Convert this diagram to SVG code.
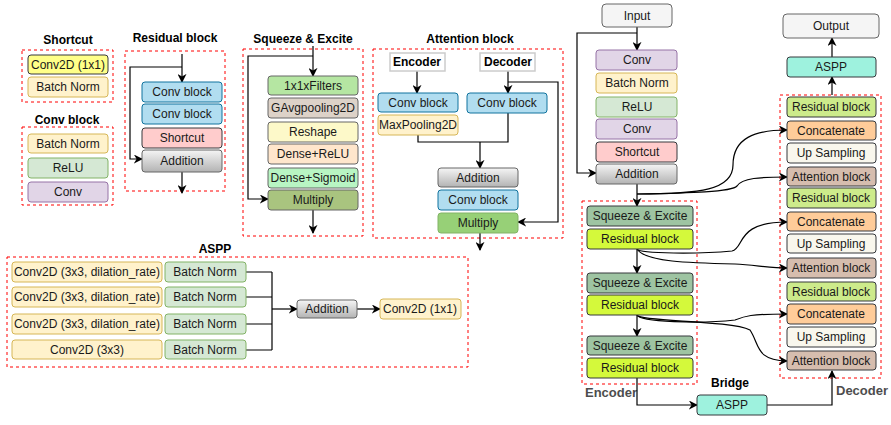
<svg xmlns="http://www.w3.org/2000/svg" width="891" height="425" viewBox="0 0 891 425">
<defs>
<linearGradient id="gray" x1="0" y1="0" x2="0" y2="1"><stop offset="0" stop-color="#f5f5f5"/><stop offset="1" stop-color="#b3b3b3"/></linearGradient>
<marker id="arr" viewBox="0 0 10 10" refX="9" refY="5" markerWidth="9" markerHeight="9" orient="auto" markerUnits="userSpaceOnUse"><path d="M0,0 L10,5 L0,10 L3,5 z" fill="#000"/></marker>
<style>
text{font-family:"Liberation Sans",Arial,sans-serif;font-size:12px;fill:#1a1a1a;text-anchor:middle}
.t{font-weight:bold;fill:#000}
.lbl{font-weight:bold;fill:#4d4d4d;text-anchor:start;font-size:13px}
.dash{fill:none;stroke:#ff0000;stroke-width:1;stroke-dasharray:3,3}
rect{stroke-width:1}
.yel{fill:#ffff88;stroke:#36393d}
.bn{fill:#fff2cc;stroke:#d6b656}
.gr{fill:#d5e8d4;stroke:#82b366}
.pu{fill:#e1d5e7;stroke:#9673a6}
.bl{fill:#b1ddf0;stroke:#10739e}
.pk{fill:#ffcccc;stroke:#36393d}
.add{fill:url(#gray);stroke:#666666}
.inp{fill:#f5f5f5;stroke:#666666}
.f1{fill:#b5e6a2;stroke:#666666}
.f2{fill:#ddd2c8;stroke:#666666}
.f3{fill:#fdf9c9;stroke:#666666}
.f4{fill:#ffe6cc;stroke:#666666}
.f5{fill:#b8f5c3;stroke:#666666}
.f6{fill:#a9c47f;stroke:#666666}
.mul{fill:#97d077;stroke:#82b366}
.wh{fill:#ffffff;stroke:#cccccc;stroke-width:1.5}
.se{fill:#9ec4a2;stroke:#36393d}
.rb{fill:#d4f93b;stroke:#36393d}
.rb2{fill:#cdeb8b;stroke:#36393d}
.cc{fill:#ffcc99;stroke:#36393d}
.up{fill:#f9f7ed;stroke:#36393d}
.at{fill:#d6bdae;stroke:#36393d}
.as{fill:#9ef2de;stroke:#36393d}
.ln{fill:none;stroke:#000;stroke-width:1.2}
.la{fill:none;stroke:#000;stroke-width:1.2;marker-end:url(#arr)}
</style>
</defs>
<rect width="891" height="425" fill="#ffffff"/>

<!-- titles / frames -->
<g id="frames">
<rect class="dash" x="22" y="50" width="91" height="52"/>
<rect class="dash" x="22" y="127" width="91" height="78"/>
<rect class="dash" x="125" y="51" width="100" height="140"/>
<rect class="dash" x="243" y="49" width="120" height="187"/>
<rect class="dash" x="373" y="49" width="190" height="189"/>
<rect class="dash" x="7" y="257" width="461" height="110"/>
<rect class="dash" x="582" y="201" width="115" height="183"/>
<rect class="dash" x="780" y="95" width="101" height="283"/>
<text class="t" x="68" y="44">Shortcut</text>
<text class="t" x="67" y="124">Conv block</text>
<text class="t" x="175" y="42">Residual block</text>
<text class="t" x="303" y="43">Squeeze &amp; Excite</text>
<text class="t" x="470" y="43">Attention block</text>
<text class="t" x="215" y="253">ASPP</text>
<text class="t" x="730" y="387">Bridge</text>
<text class="lbl" x="585" y="397">Encoder</text>
<text class="lbl" x="836" y="395">Decoder</text>
</g>

<!-- connectors -->
<g id="connectors">
<path class="la" d="M182,54 V82"/>
<path class="la" d="M182,67 H130 V159 H142"/>
<path class="la" d="M182,172 V193"/>
<path class="la" d="M313,46 V76"/>
<path class="la" d="M313,56 H248 V199 H268"/>
<path class="la" d="M313,210 V233"/>
<path class="la" d="M417,71 V93"/>
<path class="la" d="M508,71 V93"/>
<path class="la" d="M508,82 H558 V222 H518"/>
<path class="ln" d="M418,135 V142 H508 V113"/>
<path class="la" d="M480,142 V168"/>
<path class="la" d="M480,233 V250"/>
<path class="ln" d="M246,272 H272 M246,297 H272 M246,324 H272 M246,350 H272 M272,272 V350"/>
<path class="la" d="M272,309 H297"/>
<path class="la" d="M357,309 H380"/>
<path class="la" d="M637,27 V50"/>
<path class="la" d="M637,33 H577 V173 H596"/>
<path class="la" d="M637,184 V206"/>
<path class="la" d="M637,249 V273"/>
<path class="la" d="M637,315 V336"/>
<path class="la" d="M637,378 V405 H697"/>
<path class="la" d="M767,405 H832 V371"/>
<path class="la" d="M832,95 V77"/>
<path class="la" d="M832,57 V38"/>
<path class="la" d="M637,194 C700,194 733,190 733,165 C733,138 755,130 787,130"/>
<path class="la" d="M637,194 C690,193 732,192 737,186 C742,178 760,177 787,177"/>
<path class="la" d="M637,249 C640,254 700,254 732,251 C745,248 735,222 787,222"/>
<path class="la" d="M637,249 C645,262 690,263 735,264 C755,265 770,268 787,268"/>
<path class="la" d="M637,315 C640,322 700,324 735,320 C745,316 750,314 787,314"/>
<path class="la" d="M637,315 C640,322 730,320 750,330 C760,345 755,360 787,361"/>
</g>

<!-- left definition blocks -->
<g id="shortcut-conv2d"><rect class="yel" x="28" y="55" width="80" height="19" rx="3"/><text x="68" y="69">Conv2D (1x1)</text></g>
<g id="shortcut-bn"><rect class="bn" x="28" y="77" width="80" height="20" rx="3"/><text x="68" y="91">Batch Norm</text></g>
<g id="cb-bn"><rect class="bn" x="28" y="134" width="80" height="19" rx="3"/><text x="68" y="148">Batch Norm</text></g>
<g id="cb-relu"><rect class="gr" x="28" y="158" width="80" height="20" rx="3"/><text x="68" y="172">ReLU</text></g>
<g id="cb-conv"><rect class="pu" x="28" y="182" width="80" height="20" rx="3"/><text x="68" y="196">Conv</text></g>

<g id="rb-conv1"><rect class="bl" x="142" y="82" width="80" height="20" rx="3"/><text x="182" y="96">Conv block</text></g>
<g id="rb-conv2"><rect class="bl" x="142" y="104" width="80" height="20" rx="3"/><text x="182" y="118">Conv block</text></g>
<g id="rb-short"><rect class="pk" x="142" y="128" width="80" height="20" rx="3"/><text x="182" y="142">Shortcut</text></g>
<g id="rb-add"><rect class="add" x="142" y="150" width="80" height="22" rx="3"/><text x="182" y="165">Addition</text></g>

<g id="se-filters"><rect class="f1" x="268" y="76" width="90" height="19" rx="3"/><text x="313" y="90">1x1xFilters</text></g>
<g id="se-gap"><rect class="f2" x="268" y="98" width="90" height="20" rx="3"/><text x="313" y="112">GAvgpooling2D</text></g>
<g id="se-reshape"><rect class="f3" x="268" y="122" width="90" height="20" rx="3"/><text x="313" y="136">Reshape</text></g>
<g id="se-dense-relu"><rect class="f4" x="268" y="144" width="90" height="20" rx="3"/><text x="313" y="158">Dense+ReLU</text></g>
<g id="se-dense-sig"><rect class="f5" x="268" y="168" width="90" height="20" rx="3"/><text x="313" y="182">Dense+Sigmoid</text></g>
<g id="se-mul"><rect class="f6" x="268" y="190" width="90" height="20" rx="3"/><text x="313" y="204">Multiply</text></g>

<g id="ab-enc"><rect class="wh" x="390" y="53" width="55" height="18"/><text class="t" x="417" y="66">Encoder</text></g>
<g id="ab-dec"><rect class="wh" x="480" y="53" width="55" height="18"/><text class="t" x="508" y="66">Decoder</text></g>
<g id="ab-conv-l"><rect class="bl" x="378" y="93" width="80" height="19" rx="3"/><text x="418" y="107">Conv block</text></g>
<g id="ab-maxpool"><rect class="bn" x="378" y="115" width="80" height="20" rx="3"/><text x="418" y="129">MaxPooling2D</text></g>
<g id="ab-conv-r"><rect class="bl" x="467" y="93" width="80" height="20" rx="3"/><text x="507" y="107">Conv block</text></g>
<g id="ab-add"><rect class="add" x="438" y="168" width="80" height="19" rx="3"/><text x="478" y="182">Addition</text></g>
<g id="ab-conv"><rect class="bl" x="438" y="190" width="80" height="20" rx="3"/><text x="478" y="204">Conv block</text></g>
<g id="ab-mul"><rect class="mul" x="438" y="213" width="80" height="20" rx="3"/><text x="478" y="227">Multiply</text></g>

<!-- ASPP -->
<g id="aspp-c1"><rect class="bn" x="12" y="262" width="150" height="20" rx="3"/><text x="87" y="276">Conv2D (3x3, dilation_rate)</text></g>
<g id="aspp-c2"><rect class="bn" x="12" y="287" width="150" height="20" rx="3"/><text x="87" y="301">Conv2D (3x3, dilation_rate)</text></g>
<g id="aspp-c3"><rect class="bn" x="12" y="314" width="150" height="20" rx="3"/><text x="87" y="328">Conv2D (3x3, dilation_rate)</text></g>
<g id="aspp-c4"><rect class="bn" x="12" y="340" width="150" height="19" rx="3"/><text x="87" y="354">Conv2D (3x3)</text></g>
<g id="aspp-b1"><rect class="gr" x="165" y="262" width="81" height="20" rx="3"/><text x="205" y="276">Batch Norm</text></g>
<g id="aspp-b2"><rect class="gr" x="165" y="287" width="81" height="20" rx="3"/><text x="205" y="301">Batch Norm</text></g>
<g id="aspp-b3"><rect class="gr" x="165" y="314" width="81" height="20" rx="3"/><text x="205" y="328">Batch Norm</text></g>
<g id="aspp-b4"><rect class="gr" x="165" y="340" width="81" height="19" rx="3"/><text x="205" y="354">Batch Norm</text></g>
<g id="aspp-add"><rect class="add" x="297" y="300" width="60" height="18" rx="3"/><text x="327" y="313">Addition</text></g>
<g id="aspp-out"><rect class="bn" x="380" y="299" width="81" height="20" rx="3"/><text x="420" y="313">Conv2D (1x1)</text></g>

<!-- main network -->
<g id="input"><rect class="inp" x="602" y="4" width="70" height="23" rx="4"/><text x="637" y="20">Input</text></g>
<g id="m-conv1"><rect class="pu" x="596" y="50" width="81" height="20" rx="3"/><text x="637" y="64">Conv</text></g>
<g id="m-bn"><rect class="bn" x="596" y="73" width="81" height="20" rx="3"/><text x="637" y="87">Batch Norm</text></g>
<g id="m-relu"><rect class="gr" x="596" y="97" width="81" height="20" rx="3"/><text x="637" y="111">ReLU</text></g>
<g id="m-conv2"><rect class="pu" x="596" y="119" width="81" height="20" rx="3"/><text x="637" y="133">Conv</text></g>
<g id="m-short"><rect class="pk" x="596" y="142" width="81" height="20" rx="3"/><text x="637" y="156">Shortcut</text></g>
<g id="m-add"><rect class="add" x="596" y="164" width="81" height="20" rx="3"/><text x="637" y="178">Addition</text></g>

<g id="e-se1"><rect class="se" x="587" y="206" width="106" height="20" rx="3"/><text x="640" y="220">Squeeze &amp; Excite</text></g>
<g id="e-rb1"><rect class="rb" x="587" y="229" width="106" height="20" rx="3"/><text x="640" y="243">Residual block</text></g>
<g id="e-se2"><rect class="se" x="587" y="273" width="106" height="20" rx="3"/><text x="640" y="287">Squeeze &amp; Excite</text></g>
<g id="e-rb2"><rect class="rb" x="587" y="295" width="106" height="20" rx="3"/><text x="640" y="309">Residual block</text></g>
<g id="e-se3"><rect class="se" x="587" y="336" width="106" height="19" rx="3"/><text x="640" y="350">Squeeze &amp; Excite</text></g>
<g id="e-rb3"><rect class="rb" x="587" y="358" width="106" height="20" rx="3"/><text x="640" y="372">Residual block</text></g>

<g id="bridge-aspp"><rect class="as" x="697" y="395" width="70" height="20" rx="3"/><text x="732" y="409">ASPP</text></g>

<g id="output"><rect class="inp" x="783" y="14" width="96" height="24" rx="4"/><text x="831" y="30">Output</text></g>
<g id="out-aspp"><rect class="as" x="787" y="57" width="89" height="20" rx="3"/><text x="831" y="71">ASPP</text></g>

<g id="d-rb1"><rect class="rb2" x="787" y="97" width="89" height="20" rx="3"/><text x="831" y="111">Residual block</text></g>
<g id="d-cc1"><rect class="cc" x="787" y="121" width="89" height="19" rx="3"/><text x="831" y="135">Concatenate</text></g>
<g id="d-up1"><rect class="up" x="787" y="143" width="89" height="20" rx="3"/><text x="831" y="157">Up Sampling</text></g>
<g id="d-at1"><rect class="at" x="787" y="167" width="89" height="19" rx="3"/><text x="831" y="181">Attention block</text></g>
<g id="d-rb2"><rect class="rb2" x="787" y="188" width="89" height="20" rx="3"/><text x="831" y="202">Residual block</text></g>
<g id="d-cc2"><rect class="cc" x="787" y="212" width="89" height="19" rx="3"/><text x="831" y="226">Concatenate</text></g>
<g id="d-up2"><rect class="up" x="787" y="234" width="89" height="19" rx="3"/><text x="831" y="248">Up Sampling</text></g>
<g id="d-at2"><rect class="at" x="787" y="258" width="89" height="20" rx="3"/><text x="831" y="272">Attention block</text></g>
<g id="d-rb3"><rect class="rb2" x="787" y="282" width="89" height="19" rx="3"/><text x="831" y="296">Residual block</text></g>
<g id="d-cc3"><rect class="cc" x="787" y="304" width="89" height="20" rx="3"/><text x="831" y="318">Concatenate</text></g>
<g id="d-up3"><rect class="up" x="787" y="327" width="89" height="20" rx="3"/><text x="831" y="341">Up Sampling</text></g>
<g id="d-at3"><rect class="at" x="787" y="351" width="89" height="19" rx="3"/><text x="831" y="365">Attention block</text></g>
</svg>
